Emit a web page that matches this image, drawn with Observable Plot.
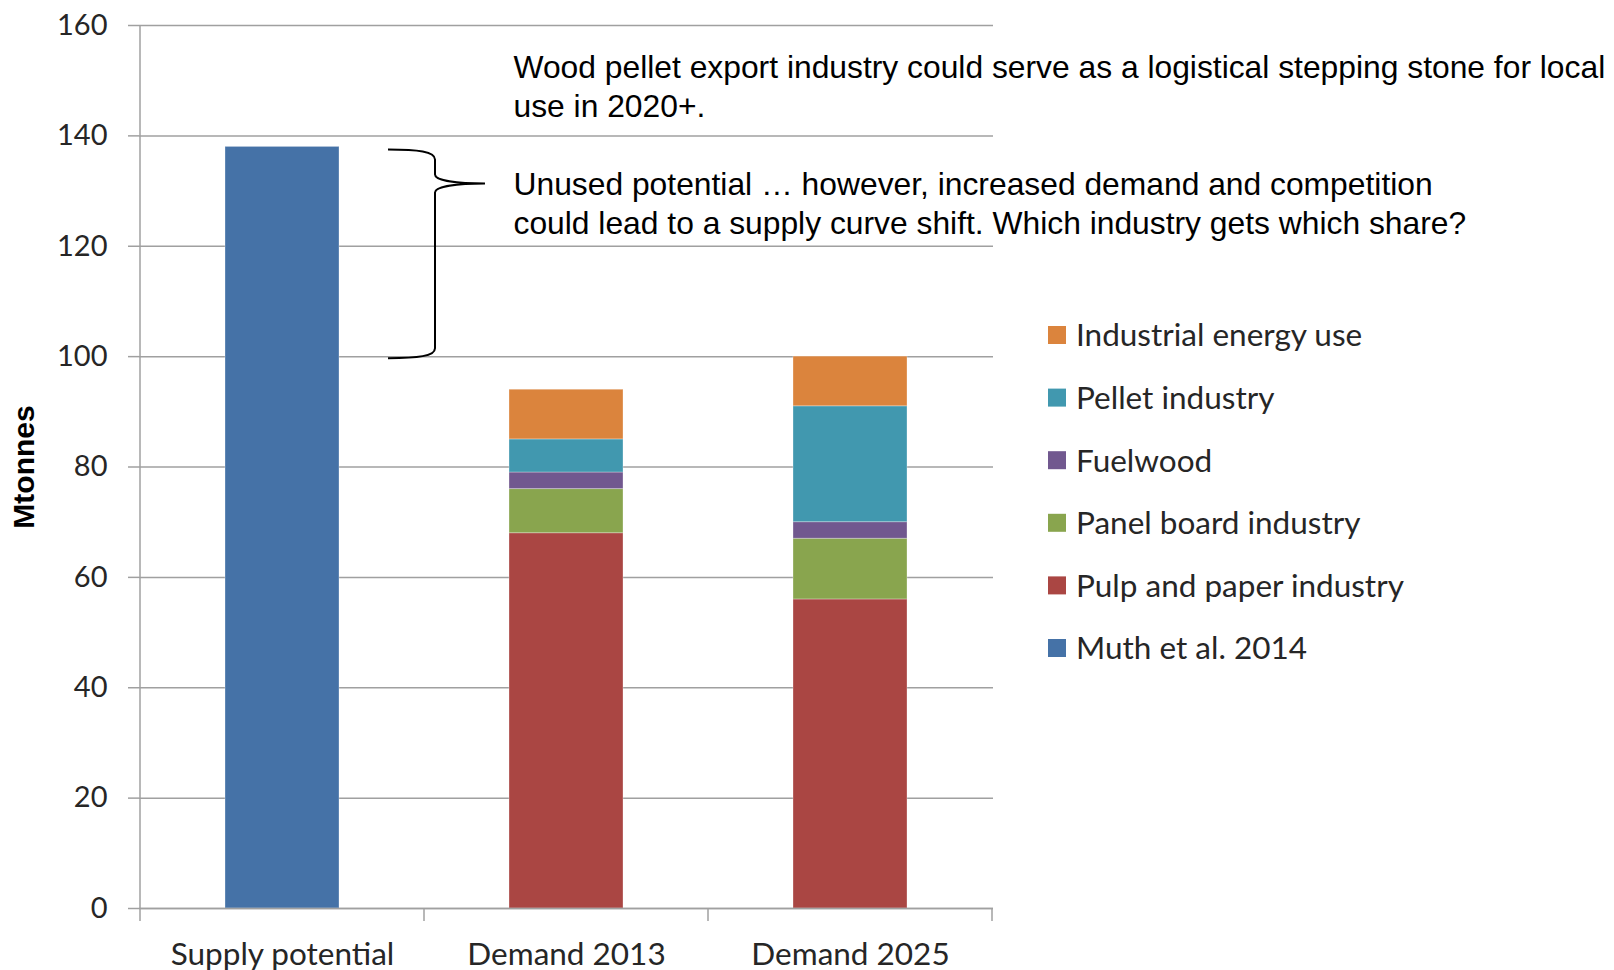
<!DOCTYPE html>
<html><head><meta charset="utf-8">
<script src="https://cdn.jsdelivr.net/npm/d3@7"></script>
<script src="https://cdn.jsdelivr.net/npm/@observablehq/plot@0.6"></script>
<style>body{margin:0;background:#fff}</style>
</head><body><div id="chart"></div>
<script>
const categories = ["Supply potential", "Demand 2013", "Demand 2025"];
const series = ["Muth et al. 2014", "Pulp and paper industry", "Panel board industry", "Fuelwood", "Pellet industry", "Industrial energy use"];
const supplyValues = [138, 0, 0];
const pulpValues = [0, 68, 56];
const panelValues = [0, 8, 11];
const fuelwoodValues = [0, 3, 3];
const pelletValues = [0, 6, 21];
const industrialValues = [0, 9, 9];
const seriesColors = ["#4572a7", "#aa4643", "#89a54e", "#71588f", "#4198af", "#db843d"];
const yTicks = [0, 20, 40, 60, 80, 100, 120, 140, 160];
const yLabel = "Mtonnes";
const noteExport = "Wood pellet export industry could serve as a logistical stepping stone for local\nuse in 2020+.";
const noteUnused = "Unused potential \u2026 however, increased demand and competition\ncould lead to a supply curve shift. Which industry gets which share?";

const valueLists = [supplyValues, pulpValues, panelValues, fuelwoodValues, pelletValues, industrialValues];
const rows = [];
series.forEach((s, i) => categories.forEach((c, j) => {
  if (valueLists[i][j] > 0) rows.push({category: c, series: s, value: valueLists[i][j]});
}));
const totals = categories.map((c, j) => d3.sum(valueLists, v => v[j]));
const legendOrder = [...series].reverse();

const GRID = "#a0a0a0";
const CAL = "Lato, 'Open Sans', sans-serif";
const ARIAL = "'Liberation Sans', Arial, sans-serif";

const decor = (index, {x, y}) => {
  const g = d3.create("svg:g");
  const bw = x.bandwidth(), step = x.step();
  const gap = (step - bw) / 2;
  const bounds = categories.map(c => x(c) - gap);
  bounds.push(x(categories[categories.length - 1]) + bw + gap);
  const y0 = y(0), yTop = y(yTicks[yTicks.length - 1]);
  g.append("line").attr("x1", bounds[0]).attr("x2", bounds[0]).attr("y1", yTop).attr("y2", y0)
    .attr("stroke", GRID).attr("stroke-width", 1.5);
  for (const b of bounds) {
    g.append("line").attr("x1", b).attr("x2", b).attr("y1", y0).attr("y2", y0 + 13)
      .attr("stroke", GRID).attr("stroke-width", 1.5);
  }
  const xr = x(categories[0]) + bw;
  const x0 = xr + 49, x1 = xr + 96, x2 = xr + 146;
  const top = y(supplyValues[0]) + 3, bot = y(totals[2]) + 2, pt = top + 34;
  g.append("path")
    .attr("d", `M${x0},${top} C${x0 + 30},${top} ${x1},${top + 2} ${x1},${top + 10} L${x1},${pt - 9} C${x1},${pt - 3} ${x1 + 22},${pt} ${x2},${pt} C${x1 + 22},${pt} ${x1},${pt + 3} ${x1},${pt + 9} L${x1},${bot - 10} C${x1},${bot - 2} ${x0 + 30},${bot} ${x0},${bot}`)
    .attr("fill", "none").attr("stroke", "#000").attr("stroke-width", 2);
  return g.node();
};

const legend = (index, {color}) => {
  const g = d3.create("svg:g").attr("text-anchor", "start");
  legendOrder.forEach((s, i) => {
    const cy = 335 + i * 62.6;
    g.append("rect").attr("x", 1048).attr("y", cy - 9).attr("width", 18).attr("height", 18).attr("fill", color(s));
    g.append("text").attr("x", 1076).attr("y", cy).attr("dy", "0.36em").attr("text-anchor", "start")
      .attr("font-family", CAL).attr("font-size", 31.5).attr("fill", "#262626").text(s);
  });
  return g.node();
};

const plot = Plot.plot({
  width: 1614, height: 970,
  marginLeft: 139, marginRight: 621, marginTop: 25, marginBottom: 62,
  style: {fontFamily: CAL, background: "white", overflow: "visible"},
  x: {domain: categories, paddingInner: 0.6, paddingOuter: 0.3, label: null},
  y: {domain: [0, 160], label: null},
  color: {domain: series, range: seriesColors},
  marks: [
    Plot.gridY(yTicks, {stroke: GRID, strokeOpacity: 1, strokeWidth: 1.5}),
    Plot.barY(rows, Plot.stackY({x: "category", y: "value", fill: "series", stroke: "#fff", strokeOpacity: 0.3, strokeWidth: 1})),
    Plot.ruleY([0], {stroke: GRID, strokeWidth: 1.5}),
    Plot.axisY(yTicks, {tickSize: 11, tickPadding: 21, fontSize: 29, stroke: GRID, strokeWidth: 1.5, fill: "#262626", label: null}),
    Plot.axisX({tickSize: 0, tickPadding: 34, fontSize: 31.5, fill: "#262626", label: null}),
    Plot.text([yLabel], {frameAnchor: "left", rotate: -90, dx: -115, textAnchor: "middle", lineAnchor: "middle", fontSize: 30, fontWeight: "bold", fontFamily: ARIAL, fill: "#000"}),
    Plot.text([noteExport], {frameAnchor: "top-left", dx: 374, dy: 25, textAnchor: "start", lineAnchor: "top", fontSize: 31.8, lineHeight: 1.23, fontFamily: ARIAL, fill: "#000"}),
    Plot.text([noteUnused], {frameAnchor: "top-left", dx: 374, dy: 142, textAnchor: "start", lineAnchor: "top", fontSize: 31.8, lineHeight: 1.23, fontFamily: ARIAL, fill: "#000"}),
    decor,
    legend
  ]
});
document.getElementById("chart").appendChild(plot);
</script>
</body></html>
